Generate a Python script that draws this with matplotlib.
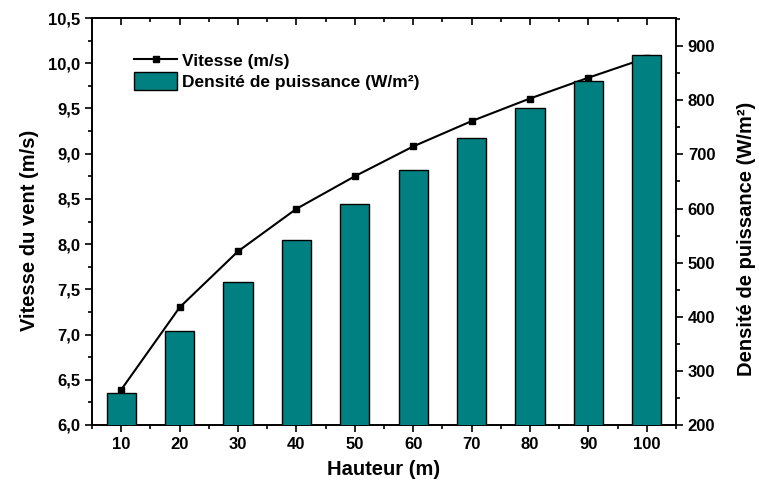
import matplotlib
matplotlib.use("Agg")
import matplotlib.pyplot as plt
from matplotlib.ticker import FuncFormatter, MultipleLocator

plt.rcParams['font.family'] = ['Liberation Sans', 'DejaVu Sans']
plt.rcParams['font.weight'] = 'bold'

hauteur = [10, 20, 30, 40, 50, 60, 70, 80, 90, 100]
vitesse = [6.39, 7.30, 7.92, 8.39, 8.75, 9.08, 9.36, 9.61, 9.84, 10.06]
densite = [260, 374, 465, 541, 608, 671, 730, 786, 835, 884]

fig = plt.figure(figsize=(7.59, 4.83), dpi=100)
ax = fig.add_axes([0.1212, 0.1201, 0.7694, 0.8426])
ax2 = ax.twinx()

ln, = ax.plot(hauteur, vitesse, color='black', linewidth=1.5, marker='s', markersize=4.5,
              label='Vitesse (m/s)', zorder=2)
bars = ax2.bar(hauteur, densite, width=5, color='#008080', edgecolor='black', linewidth=1,
               label='Densité de puissance (W/m²)', zorder=3)

ax.set_xlim(5, 105)
ax.set_ylim(6.0, 10.5)
ax2.set_ylim(200, 952)

ax.set_xticks(hauteur)
ax.xaxis.set_minor_locator(MultipleLocator(5))
ax.yaxis.set_major_locator(MultipleLocator(0.5))
ax.yaxis.set_minor_locator(MultipleLocator(0.25))
ax.yaxis.set_major_formatter(FuncFormatter(lambda v, p: f"{v:.1f}".replace('.', ',')))
ax2.yaxis.set_major_locator(MultipleLocator(100))
ax2.yaxis.set_minor_locator(MultipleLocator(50))

for a in (ax, ax2):
    for s in a.spines.values():
        s.set_linewidth(1.2)
ax.tick_params(axis='x', which='both', direction='out', top=True, labelsize=12, width=1.2)
ax.tick_params(axis='x', which='major', length=5)
ax.tick_params(axis='x', which='minor', length=3)
ax.tick_params(axis='y', which='major', direction='out', length=5, width=1.2, labelsize=12)
ax.tick_params(axis='y', which='minor', direction='out', length=3, width=1.2)
ax2.tick_params(axis='y', which='major', direction='out', length=5, width=1.2, labelsize=12)
ax2.tick_params(axis='y', which='minor', direction='out', length=3, width=1.2)
# top ticks point inward
for t in ax.xaxis.get_major_ticks() + ax.xaxis.get_minor_ticks():
    t.tick2line.set_marker(matplotlib.lines.TICKDOWN)

ax.set_xlabel('Hauteur (m)', fontsize=14.5, fontweight='bold', labelpad=6)
ax.set_ylabel('Vitesse du vent (m/s)', fontsize=14.5, fontweight='bold')
ax2.set_ylabel('Densité de puissance (W/m²)', fontsize=14.5, fontweight='bold')
ax.yaxis.set_label_coords(-0.091, 0.478)
ax2.yaxis.set_label_coords(1.104, 0.458)

ax.legend([ln, bars], ['Vitesse (m/s)', 'Densité de puissance (W/m²)'],
          loc='upper left', bbox_to_anchor=(0.06, 0.935), frameon=False,
          fontsize=12.5, handlelength=2.5, handleheight=1.15, borderaxespad=0,
          labelspacing=0.2, handletextpad=0.25)

fig.savefig("out.png", dpi=100)
